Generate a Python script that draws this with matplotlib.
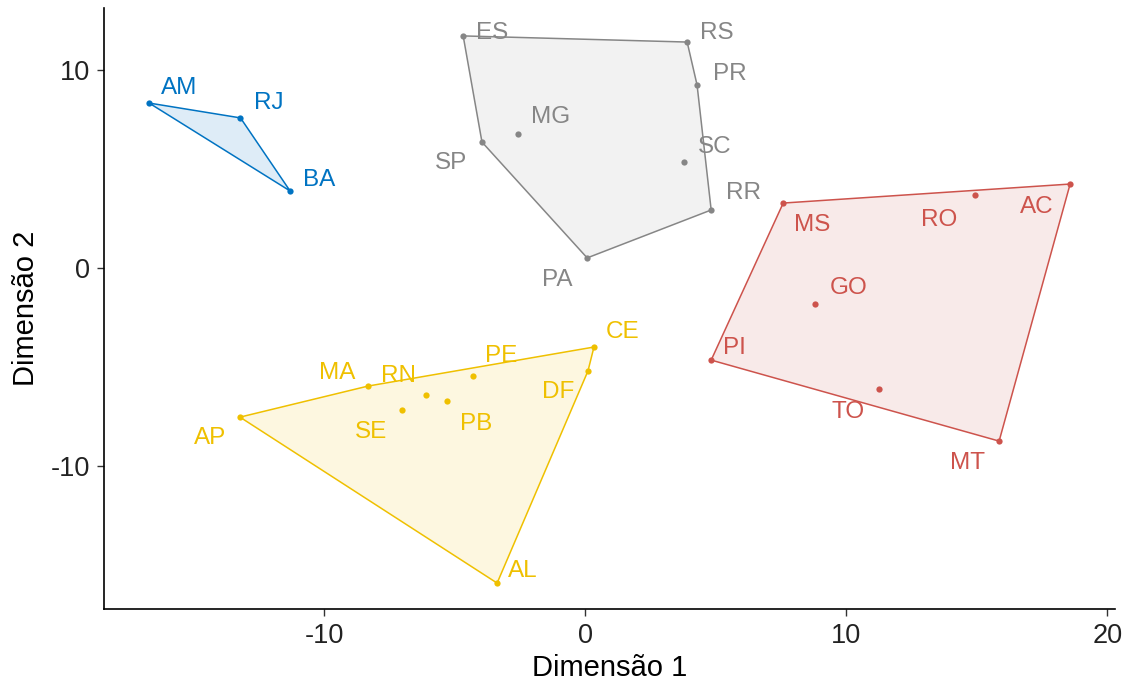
import numpy as np
import matplotlib
matplotlib.use("Agg")
import matplotlib.pyplot as plt

plt.rcParams['font.family'] = ['Liberation Sans', 'DejaVu Sans']
plt.rcParams['axes.unicode_minus'] = False

# state coordinates on the two dimensions, one group per cluster
blue_states = ['AM', 'RJ', 'BA']
blue_x = [-16.7, -13.2, -11.3]
blue_y = [8.33, 7.58, 3.89]

gray_states = ['ES', 'RS', 'PR', 'MG', 'SP', 'SC', 'RR', 'PA']
gray_x = [-4.67, 3.91, 4.29, -2.57, -3.95, 3.79, 4.83, 0.08]
gray_y = [11.72, 11.41, 9.24, 6.77, 6.36, 5.35, 2.93, 0.51]

red_states = ['MS', 'RO', 'AC', 'GO', 'PI', 'TO', 'MT']
red_x = [7.59, 14.94, 18.58, 8.81, 4.83, 11.26, 15.86]
red_y = [3.28, 3.69, 4.24, -1.82, -4.65, -6.11, -8.74]

yellow_states = ['CE', 'DF', 'PE', 'MA', 'RN', 'PB', 'SE', 'AP', 'AL']
yellow_x = [0.34, 0.11, -4.29, -8.31, -6.09, -5.29, -7.01, -13.22, -3.37]
yellow_y = [-3.99, -5.20, -5.45, -5.96, -6.41, -6.72, -7.17, -7.53, -15.91]

groups = [
    (blue_states, blue_x, blue_y, '#0073C2', 0.13),
    (gray_states, gray_x, gray_y, '#868686', 0.10),
    (red_states, red_x, red_y, '#CD534C', 0.12),
    (yellow_states, yellow_x, yellow_y, '#EFC000', 0.12),
]

# label offsets in pixels (dx, dy), picked so the labels do not collide
label_offset = {
    'AM': (30, 15), 'RJ': (28, 15), 'BA': (29, 11),
    'ES': (29, 3), 'RS': (30, 9), 'PR': (33, 11), 'MG': (33, 17),
    'SP': (-31, -21), 'SC': (31, 15), 'RR': (32, 17), 'PA': (-30, -22),
    'MS': (29, -22), 'RO': (-36, -25), 'AC': (-33, -23), 'GO': (34, 16),
    'PI': (23, 12), 'TO': (-31, -23), 'MT': (-32, -22),
    'CE': (29, 15), 'DF': (-30, -21), 'PE': (28, 20), 'MA': (-31, 13),
    'RN': (-28, 19), 'PB': (29, -23), 'SE': (-31, -22), 'AP': (-30, -21),
    'AL': (26, 12),
}


def convex_hull(pts):
    pts = sorted(set(pts))
    if len(pts) < 3:
        return pts

    def cross(o, a, b):
        return (a[0] - o[0]) * (b[1] - o[1]) - (a[1] - o[1]) * (b[0] - o[0])

    lower = []
    for p in pts:
        while len(lower) >= 2 and cross(lower[-2], lower[-1], p) <= 0:
            lower.pop()
        lower.append(p)
    upper = []
    for p in reversed(pts):
        while len(upper) >= 2 and cross(upper[-2], upper[-1], p) <= 0:
            upper.pop()
        upper.append(p)
    return lower[:-1] + upper[:-1]


fig = plt.figure(figsize=(11.35, 6.95), dpi=100)
ax = fig.add_axes([0.0916, 0.1237, 0.8908, 0.8648])

for states, xs, ys, color, alpha in groups:
    hull = np.array(convex_hull(list(zip(xs, ys))))
    ax.fill(hull[:, 0], hull[:, 1], facecolor=color, alpha=alpha, edgecolor='none')
    closed = np.vstack([hull, hull[:1]])
    ax.plot(closed[:, 0], closed[:, 1], color=color, lw=1.1)
    ax.plot(xs, ys, 'o', color=color, ms=4.5, mew=0)
    for s, x, y in zip(states, xs, ys):
        dx, dy = label_offset[s]
        ax.annotate(s, (x, y), xytext=(dx, dy), textcoords='offset pixels',
                    ha='center', va='center', color=color, fontsize=17.5)

ax.set_xlim(-18.43, 20.3)
ax.set_ylim(-17.22, 13.13)
ax.set_xticks([-10, 0, 10, 20])
ax.set_yticks([-10, 0, 10])

for side in ['top', 'right']:
    ax.spines[side].set_visible(False)
for side in ['left', 'bottom']:
    ax.spines[side].set_linewidth(1.2)
    ax.spines[side].set_color('black')

ax.tick_params(axis='both', length=5, width=1, color='#333333',
               labelsize=19.5, labelcolor='#222222', pad=5)
ax.set_xlabel('Dimensão 1', fontsize=21, labelpad=4)
ax.set_ylabel('Dimensão 2', fontsize=21, labelpad=8)

fig.savefig('out.png', dpi=100)
